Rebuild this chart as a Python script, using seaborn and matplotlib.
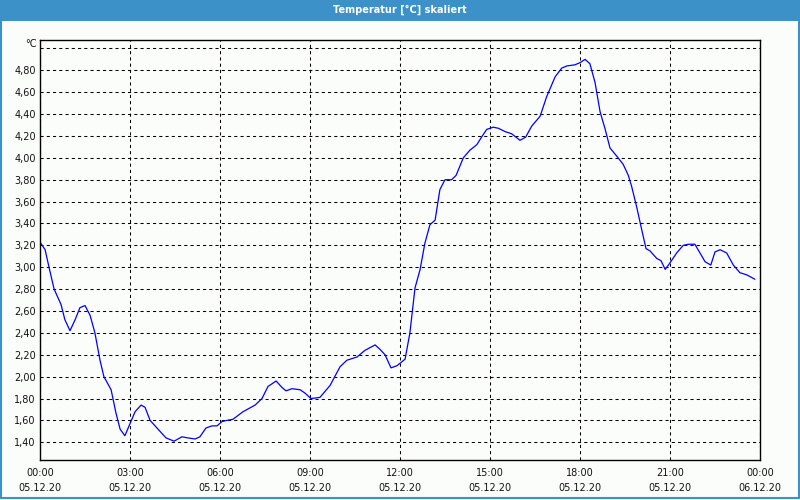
import matplotlib
matplotlib.use("Agg")
import matplotlib.pyplot as plt
import seaborn as sns
import pandas as pd
from matplotlib.patches import Rectangle
from matplotlib.ticker import FixedLocator

# ---------------- data ----------------
hours = [0.0, 0.17, 0.3, 0.47, 0.7, 0.83, 1.0, 1.17, 1.33, 1.5, 1.67, 1.83, 2.0, 2.13,
         2.37, 2.53, 2.67, 2.83, 3.0, 3.17, 3.37, 3.5, 3.67, 4.0, 4.2, 4.47, 4.73, 4.93,
         5.17, 5.33, 5.53, 5.73, 5.9, 6.07, 6.23, 6.43, 6.77, 7.17, 7.4, 7.6, 7.87, 8.07,
         8.2, 8.4, 8.67, 8.83, 9.03, 9.33, 9.67, 10.0, 10.23, 10.57, 10.83, 11.17, 11.33,
         11.5, 11.7, 11.9, 12.17, 12.33, 12.5, 12.67, 12.83, 13.0, 13.17, 13.33, 13.5,
         13.72, 13.87, 14.11, 14.33, 14.56, 14.72, 14.89, 15.11, 15.28, 15.5, 15.72, 16.0,
         16.19, 16.39, 16.67, 16.89, 17.17, 17.39, 17.56, 17.83, 18.0, 18.17, 18.33, 18.5,
         18.67, 18.83, 19.0, 19.24, 19.44, 19.61, 19.72, 19.89, 20.06, 20.2, 20.33, 20.56,
         20.7, 20.84, 21.0, 21.22, 21.44, 21.61, 21.83, 22.0, 22.17, 22.36, 22.5, 22.67,
         22.89, 23.11, 23.33, 23.56, 23.83]
temps = [3.23, 3.16, 3.00, 2.80, 2.66, 2.52, 2.42, 2.52, 2.63, 2.65, 2.56, 2.40, 2.15, 2.00,
         1.88, 1.67, 1.52, 1.46, 1.57, 1.68, 1.74, 1.72, 1.60, 1.50, 1.44, 1.41, 1.45, 1.44,
         1.43, 1.45, 1.53, 1.55, 1.55, 1.59, 1.60, 1.61, 1.68, 1.74, 1.80, 1.91, 1.96, 1.90,
         1.87, 1.89, 1.88, 1.85, 1.80, 1.81, 1.92, 2.09, 2.15, 2.18, 2.24, 2.29, 2.25,
         2.20, 2.08, 2.10, 2.16, 2.40, 2.81, 2.98, 3.22, 3.39, 3.43, 3.71, 3.80,
         3.80, 3.84, 4.00, 4.07, 4.12, 4.19, 4.26, 4.28, 4.27, 4.24, 4.22, 4.16,
         4.19, 4.29, 4.38, 4.56, 4.74, 4.82, 4.84, 4.85, 4.87, 4.90, 4.86, 4.69,
         4.42, 4.27, 4.09, 4.01, 3.94, 3.84, 3.74, 3.55, 3.34, 3.17, 3.15, 3.08,
         3.06, 2.98, 3.04, 3.13, 3.20, 3.21, 3.21, 3.13, 3.05, 3.02, 3.14, 3.16,
         3.13, 3.02, 2.95, 2.93, 2.89]

x_tick_hours = [0, 3, 6, 9, 12, 15, 18, 21, 24]
x_tick_times = ["00:00", "03:00", "06:00", "09:00", "12:00", "15:00", "18:00", "21:00", "00:00"]
x_tick_dates = ["05.12.20"] * 8 + ["06.12.20"]
y_ticks = [1.4, 1.6, 1.8, 2.0, 2.2, 2.4, 2.6, 2.8, 3.0, 3.2, 3.4, 3.6, 3.8, 4.0,
           4.2, 4.4, 4.6, 4.8, 5.0]
y_tick_labels = ["1,40", "1,60", "1,80", "2,00", "2,20", "2,40", "2,60", "2,80", "3,00",
                 "3,20", "3,40", "3,60", "3,80", "4,00", "4,20", "4,40", "4,60", "4,80", ""]
unit_label = "°C"
title = "Temperatur [°C] skaliert"

# ---------------- style ----------------
bg = "#fbfdfb"
blue_bar = "#3c92c8"
sns.set_style("white")
plt.rcParams['font.family'] = ['DejaVu Sans']

fig = plt.figure(figsize=(8, 5), dpi=100, facecolor=bg)
ax = fig.add_axes([0.05, 0.08, 0.90, 0.84])
ax.set_facecolor(bg)

df = pd.DataFrame({"Stunde": hours, "Temperatur": temps})
sns.lineplot(data=df, x="Stunde", y="Temperatur", ax=ax, color="#0000ff", linewidth=0.9)

ax.set_xlim(0, 24)
ax.set_ylim(1.238, 5.077)
ax.set_xlabel("")
ax.set_ylabel("")

ax.set_xticks(x_tick_hours)
ax.set_xticklabels([f"{t}\n{d}" for t, d in zip(x_tick_times, x_tick_dates)],
                   fontsize=7, linespacing=1.6, color="#111111")
ax.xaxis.set_minor_locator(FixedLocator([h for h in range(1, 24) if h % 3 != 0]))
ax.tick_params(axis="x", which="major", length=0, pad=6)
ax.tick_params(axis="x", which="minor", length=2.5, direction="in", width=0.8, color="black")

ax.set_yticks(y_ticks)
ax.set_yticklabels(y_tick_labels, fontsize=7, color="#111111")
ax.tick_params(axis="y", which="major", length=0, pad=3)

ax.text(-0.005, 0.99, unit_label, transform=ax.transAxes, ha="right", va="center",
        fontsize=7, color="#111111")

ax.grid(True, which="major", color="black", linestyle=(0, (3, 3)), linewidth=0.75)
for s in ax.spines.values():
    s.set_visible(True)
    s.set_color("black")
    s.set_linewidth(1.0)

# title bar and frame
fig.patches.append(Rectangle((0, 1 - 21 / 500), 1, 21 / 500, transform=fig.transFigure,
                             facecolor=blue_bar, edgecolor="none", zorder=0))
fig.patches.append(Rectangle((0.001, 0.004), 0.998, 0.99, transform=fig.transFigure,
                             facecolor="none", edgecolor=blue_bar, linewidth=1.5, zorder=0))
fig.text(0.5, 1 - 10 / 500, title, ha="center", va="center", color="white",
         fontsize=7, fontweight="bold")

fig.savefig("out.png", dpi=100, facecolor=bg)
